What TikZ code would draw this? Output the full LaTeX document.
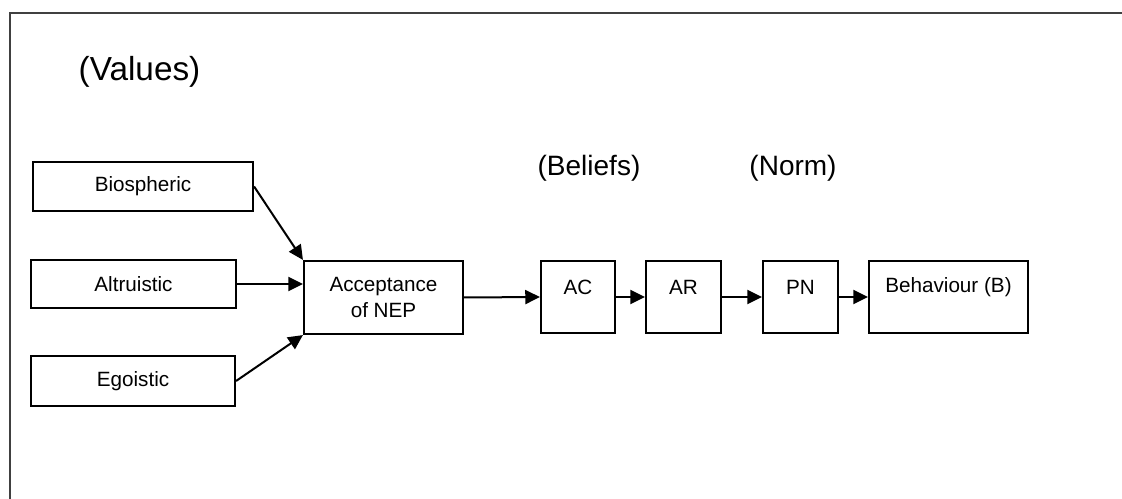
\documentclass[tikz,border=0pt]{standalone}
\usepackage{fontspec}
\setmainfont{Liberation Sans}
\usetikzlibrary{arrows.meta}
\begin{document}
\begin{tikzpicture}[x=0.75pt,y=-0.75pt,
  box/.style={draw=black,line width=1.6pt,rectangle,inner sep=0pt,
    align=center,font=\fontsize{15.5}{19}\selectfont},
  conn/.style={line width=1.5pt,-{Triangle[length=11pt,width=10.5pt]}},
  heading/.style={inner sep=0pt,font=\fontsize{21}{25}\selectfont}]
\useasboundingbox (0,0) rectangle (1122,499);
% outer frame (top and left edges)
\draw[line width=1pt,black!75] (1122,13) -- (10,13) -- (10,499);

% group headings
\node[heading,font=\fontsize{25}{29}\selectfont] (values) at (139.5,72) {(Values)};
\node[heading] (beliefs) at (589,168) {(Beliefs)};
\node[heading] (norm) at (793,168) {(Norm)};

% value boxes
\node[box,minimum width=165pt,minimum height=36.75pt] (bio) at (143,186.5) {Biospheric};
\node[box,minimum width=153.75pt,minimum height=36pt] (alt) at (133.5,284) {Altruistic};
\node[box,minimum width=153pt,minimum height=37.5pt] (ego) at (133,381) {Egoistic};

% causal chain
\node[box,minimum width=119.25pt,minimum height=54.75pt] (nep) at (383.5,297.5) {Acceptance\\of NEP};
\node[box,minimum width=55.5pt,minimum height=54pt] (ac) at (578,297) {\raisebox{7.5pt}[\height][\depth]{AC}};
\node[box,minimum width=56.25pt,minimum height=54pt] (ar) at (683.5,297) {\raisebox{7.5pt}[\height][\depth]{AR}};
\node[box,minimum width=56.25pt,minimum height=54pt] (pn) at (800.5,297) {\raisebox{7.5pt}[\height][\depth]{PN}};
\node[box,minimum width=119.25pt,minimum height=54pt] (beh) at (948.5,297) {\raisebox{7.5pt}[\height][\depth]{Behaviour (B)}};

% connectors
\draw[conn] (bio.east) -- (nep.north west);
\draw[conn] (alt.east) -- (alt.east -| nep.west);
\draw[conn] (ego.east) -- (nep.south west);
\draw[conn] (nep.east) -- (ac.west);
\draw[conn] (ac.east) -- (ar.west);
\draw[conn] (ar.east) -- (pn.west);
\draw[conn] (pn.east) -- (beh.west);
\end{tikzpicture}
\end{document}
